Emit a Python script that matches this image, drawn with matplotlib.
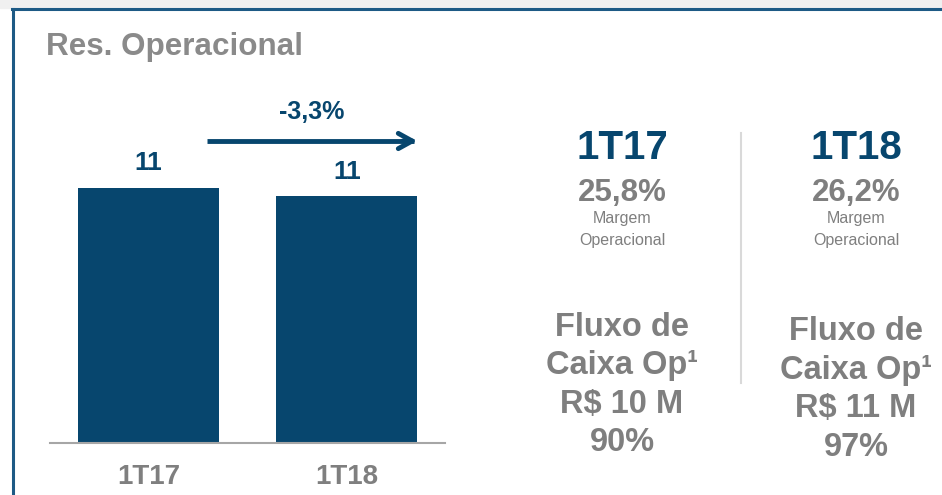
import numpy as np
import matplotlib.pyplot as plt
from matplotlib.patches import Rectangle

plt.rcParams['font.family'] = ['Liberation Sans', 'DejaVu Sans']

# datos
categorias = ["1T17", "1T18"]
valores = [11.4, 11.03]
etiquetas = ["11", "11"]
variacion = "-3,3%"
margens = ["25,8%", "26,2%"]
fluxo = [["Fluxo de", "Caixa Op\u00b9", "R$ 10 M", "90%"],
         ["Fluxo de", "Caixa Op\u00b9", "R$ 11 M", "97%"]]

azul = "#07466E"
cinza = "#7f7f7f"

W, H = 942, 495
fig = plt.figure(figsize=(W / 100, H / 100), dpi=100)


def fx(x): return x / W
def fy(y): return 1 - y / H


# barra superior y borde
fig.patches.append(Rectangle((0, fy(8)), 1, 8 / H, transform=fig.transFigure,
                             color="#f0f0f0", zorder=0))
fig.add_artist(plt.Line2D([fx(12), 1], [fy(9), fy(9)], color="#1d5a85", lw=2.2))
fig.add_artist(plt.Line2D([fx(12.5), fx(12.5)], [fy(9), 0], color="#1d5a85", lw=2.2))

fig.text(fx(46), fy(47), "Res. Operacional", fontsize=22.6, fontweight="bold",
         color="#8a8a8a", va="center", ha="left")

# grafico de barras
ax = fig.add_axes([fx(50), 52 / H, (445 - 50) / W, (443 - 100) / H])
x = np.arange(len(categorias))
bars = ax.bar(x, valores, width=0.71, color=azul)
for b, lab in zip(bars, etiquetas):
    ax.annotate(lab, (b.get_x() + b.get_width() / 2, b.get_height()),
                xytext=(0, 9), textcoords="offset points", ha="center",
                va="bottom", fontsize=19, fontweight="bold", color=azul)
ax.set_xlim(-0.496, 1.494)
ax.set_ylim(0, 11.4 * 343 / 255)
ax.set_xticks(x)
ax.set_xticklabels(categorias, fontsize=20, fontweight="bold", color=cinza)
ax.tick_params(axis="x", length=0, pad=15)
ax.set_yticks([])
for s in ["top", "right", "left"]:
    ax.spines[s].set_visible(False)
ax.spines["bottom"].set_color("#a6a6a6")
ax.spines["bottom"].set_linewidth(1.5)

# flecha
fig.add_artist(plt.Line2D([fx(207), fx(414)], [fy(141), fy(141)], color=azul, lw=3.5,
                          solid_capstyle="butt"))
ax.annotate("", xy=(fx(420), fy(141)), xytext=(fx(400), fy(141)),
            xycoords=fig.transFigure, textcoords=fig.transFigure,
            arrowprops=dict(arrowstyle="->,head_length=1.0,head_width=0.55",
                            color=azul, lw=3.5))
fig.text(fx(312), fy(112), variacion, fontsize=18, fontweight="bold", color=azul,
         ha="center", va="center")

# columnas de la derecha
centros = [622, 856]
desloc = [0, 5]
for i in range(2):
    cx = fx(centros[i])
    fig.text(cx, fy(148), categorias[i], fontsize=29, fontweight="bold", color=azul,
             ha="center", va="center")
    fig.text(cx, fy(193), margens[i], fontsize=22.5, fontweight="bold", color=cinza,
             ha="center", va="center")
    fig.text(cx, fy(218), "Margem", fontsize=11.5, color=cinza, ha="center", va="center")
    fig.text(cx, fy(240), "Operacional", fontsize=11.5, color=cinza, ha="center", va="center")
    for j, linha in enumerate(fluxo[i]):
        fig.text(cx, fy(327 + desloc[i] + j * 38.5), linha, fontsize=23.5,
                 fontweight="bold", color=cinza, ha="center", va="center")

fig.add_artist(plt.Line2D([fx(741), fx(741)], [fy(133), fy(383)], color="#d9d9d9", lw=1.5))

fig.savefig("out.png", dpi=100)
